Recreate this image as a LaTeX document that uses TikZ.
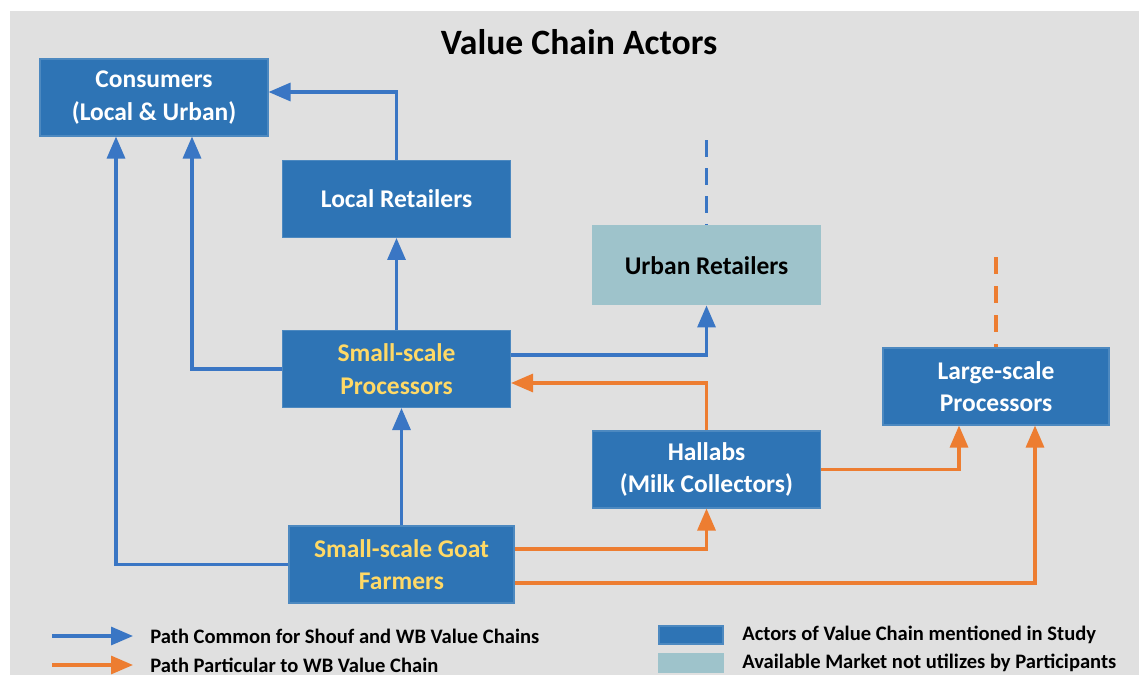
\documentclass[tikz,border=0pt]{standalone}
\usepackage{fontspec}
\setmainfont{Carlito}
\usetikzlibrary{positioning}
\usetikzlibrary{arrows.meta}

\definecolor{actorblue}{RGB}{46,116,181}
\definecolor{marketteal}{RGB}{158,195,203}
\definecolor{lineblue}{RGB}{58,118,196}
\definecolor{lineorange}{RGB}{237,125,49}
\definecolor{goldtext}{RGB}{255,217,102}
\definecolor{panelgray}{RGB}{224,224,224}

\begin{document}
\begin{tikzpicture}[node distance={15mm},
    actor/.style = {draw=actorblue!85!white, line width=0.6pt, fill=actorblue, text=white, minimum width=4.56cm, minimum height=1.54cm, inner sep=0pt, align=center, font=\bfseries\fontsize{14.5}{18.4}\selectfont},
    market/.style = {actor, fill=marketteal, draw=marketteal, text=black},
    blueflow/.style = {draw=lineblue, line width=1.8pt, -{Triangle[length=0.44cm, width=0.36cm]}},
    orangeflow/.style = {blueflow, draw=lineorange},
    unused/.style = {line width=2.2pt},
    keytext/.style = {anchor=west, inner sep=0pt, font=\bfseries\fontsize{11.7}{14}\selectfont}]
    % page and grey panel
    \useasboundingbox (0,0) rectangle (22.78,13.5);
    \fill[white] (0,0) rectangle (22.78,13.5);
    \fill[panelgray] (0.2,0) rectangle (22.78,13.28);

    \node[font=\bfseries\fontsize{20.3}{24}\selectfont] (title) at (11.58,12.66) {Value Chain Actors};

    % actors
    \node[actor] (cons) at (3.08,11.55) {Consumers\\(Local \& Urban)};
    \node[actor, text=goldtext] (sproc) at (7.93,6.12) {Small-scale\\Processors};
    \node[actor] (lret) [above=1.84cm of sproc] {Local Retailers};
    \node[actor, text=goldtext, minimum width=4.5cm] (farm) at (8.03,2.21) {Small-scale Goat\\Farmers};
    \node[actor] (hal) at (14.13,4.11) {Hallabs\\(Milk Collectors)};
    \node[market, minimum height=1.58cm] (uret) [above=2.5cm of hal] {Urban Retailers};
    \node[actor, minimum width=4.52cm] (lproc) at (19.92,5.77) {Large-scale\\Processors};

    % common paths
    \draw[blueflow] (lret.north) |- ([yshift=0.11cm]cons.east);
    \draw[blueflow] (farm.west) -| ([xshift=-0.76cm]cons.south);
    \draw[blueflow] (sproc.west) -| ([xshift=0.76cm]cons.south);
    \draw[blueflow] (sproc.north) -- (lret.south);
    \draw[blueflow] (farm.north) -- (farm.north |- sproc.south);
    \draw[blueflow] ([yshift=0.28cm]sproc.east) -| (uret.south);

    % WB only paths
    \draw[orangeflow] (hal.north) |- ([yshift=-0.28cm]sproc.east);
    \draw[orangeflow] ([yshift=0.31cm]farm.east) -| (hal.south);
    \draw[orangeflow] ([yshift=-0.37cm]farm.east) -| ([xshift=0.78cm]lproc.south);
    \draw[orangeflow] (hal.east) -| ([xshift=-0.74cm]lproc.south);

    % markets further up (broken lines, one dash at a time)
    \coordinate (uend) at ([yshift=1.7cm]uret.north);
    \coordinate (lend) at ([yshift=1.8cm]lproc.north);
    \draw[unused, lineblue] (uend) -- ++(0,-0.33) ++(0,-0.23) -- ++(0,-0.33) ++(0,-0.23)
        -- ++(0,-0.33) ++(0,-0.22) -- (uret.north);
    \draw[unused, lineorange] (lend) -- ++(0,-0.34) ++(0,-0.24) -- ++(0,-0.34) ++(0,-0.24)
        -- ++(0,-0.34) ++(0,-0.24) -- (lproc.north);

    % legend
    \coordinate (k1a) at (1.04,0.78);
    \coordinate (k1b) at (2.66,0.78);
    \coordinate (k2a) at (1.04,0.2);
    \coordinate (k2b) at (2.66,0.2);
    \draw[blueflow] (k1a) -- (k1b);
    \draw[orangeflow] (k2a) -- (k2b);
    \node[keytext] (k1) at (3.0,0.78) {Path Common for Shouf and WB Value Chains};
    \node[keytext] (k2) at (3.0,0.2) {Path Particular to WB Value Chain};
    \node[actor, minimum width=1.28cm, minimum height=0.36cm] (k3box) at (13.82,0.8) {};
    \node[market, minimum width=1.28cm, minimum height=0.36cm] (k4box) at (13.82,0.24) {};
    \node[keytext] (k3) at (14.84,0.8) {Actors of Value Chain mentioned in Study};
    \node[keytext] (k4) at (14.84,0.24) {Available Market not utilizes by Participants};
\end{tikzpicture}
\end{document}
